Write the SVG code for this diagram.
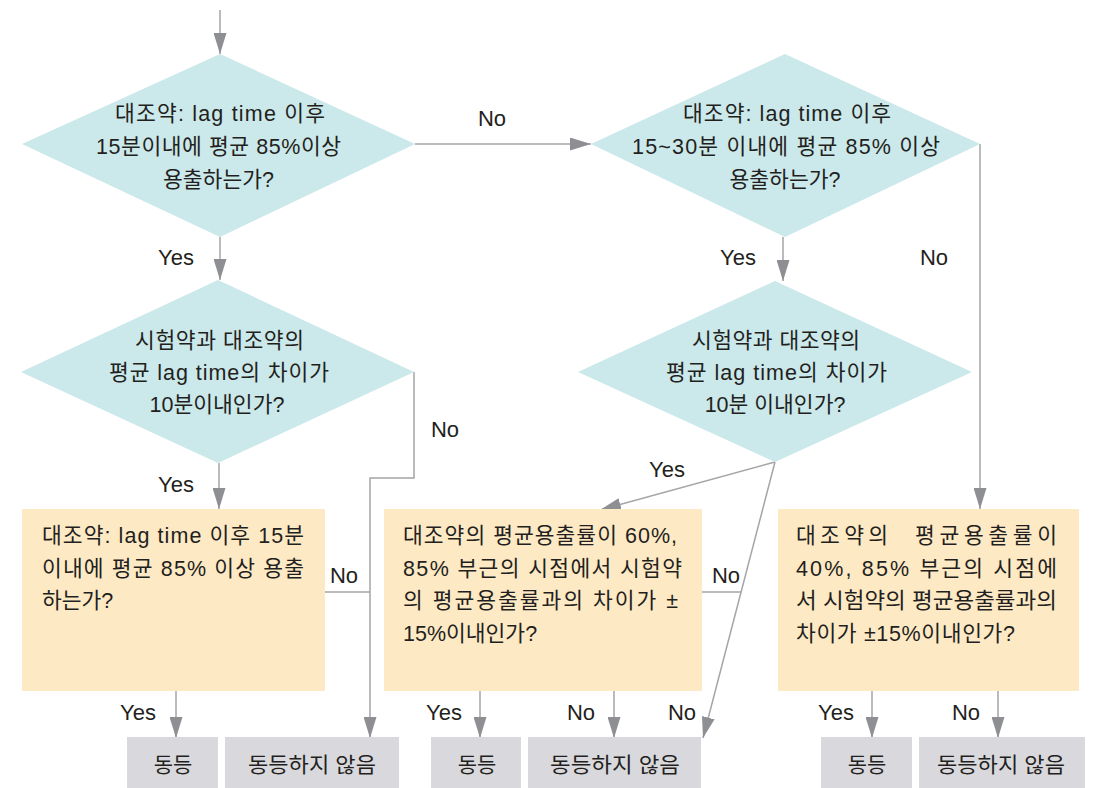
<svg xmlns="http://www.w3.org/2000/svg" width="1098" height="788" viewBox="0 0 1098 788">
<style>
text{font-family:'Liberation Sans','Noto Sans CJK KR',sans-serif;fill:#231f20}
.t{font-size:21.5px}
.g{font-size:21px}
.m{text-anchor:middle}
.lbl{font-size:22px;text-anchor:middle}
.dia{fill:#cbe8ea}
.box{fill:#fee9c5}
.gray{fill:#d9d9dd}
.c{fill:none;stroke:#a5a5a9;stroke-width:1.5}
.a{marker-end:url(#arr)}
</style>
<defs>
<marker id="arr" markerUnits="userSpaceOnUse" markerWidth="21" markerHeight="13" refX="21" refY="6.5" orient="auto">
<path d="M0,0 L21,6.5 L0,13 z" fill="#8e8f93"/>
</marker>
</defs>
<rect width="1098" height="788" fill="#ffffff"/>

<g id="connectors">
<path class="c a" d="M220,10 V54"/>
<path class="c a" d="M415,144 H591"/>
<path class="c a" d="M220,237 V280"/>
<path class="c a" d="M783,237 V281"/>
<path class="c a" d="M980,144 V509"/>
<path class="c a" d="M219,463 V509"/>
<path class="c a" d="M414,372 V478 H370 V738"/>
<path class="c" d="M325,592 H370"/>
<path class="c a" d="M775,462 L600,510"/>
<path class="c a" d="M775,462 L703,738"/>
<path class="c" d="M702,592 H741"/>
<path class="c a" d="M176,691 V738"/>
<path class="c a" d="M480,691 V738"/>
<path class="c a" d="M614,691 V738"/>
<path class="c a" d="M872,691 V738"/>
<path class="c a" d="M998,691 V738"/>
<text class="lbl" x="492" y="126">No</text>
<text class="lbl" x="176" y="265">Yes</text>
<text class="lbl" x="738" y="265">Yes</text>
<text class="lbl" x="934" y="265">No</text>
<text class="lbl" x="176" y="492">Yes</text>
<text class="lbl" x="445" y="437">No</text>
<text class="lbl" x="667" y="477">Yes</text>
<text class="lbl" x="344" y="583">No</text>
<text class="lbl" x="726" y="583">No</text>
<text class="lbl" x="138" y="720">Yes</text>
<text class="lbl" x="444" y="720">Yes</text>
<text class="lbl" x="581" y="720">No</text>
<text class="lbl" x="682" y="720">No</text>
<text class="lbl" x="836" y="720">Yes</text>
<text class="lbl" x="966" y="720">No</text>
</g>

<g id="d1">
<polygon class="dia" points="220,54 415,144 220,237 22,144"/>
<text class="t m" x="220" y="121" textLength="210">대조약: lag time 이후</text>
<text class="t m" x="218.5" y="154" textLength="245">15분이내에 평균 85%이상</text>
<text class="t m" x="218.5" y="187">용출하는가?</text>
</g>

<g id="d2">
<polygon class="dia" points="785,54 980,144 785,237 591,144"/>
<text class="t m" x="787" y="121" textLength="208">대조약: lag time 이후</text>
<text class="t m" x="786" y="154" textLength="308">15~30분 이내에 평균 85% 이상</text>
<text class="t m" x="785" y="187">용출하는가?</text>
</g>

<g id="d3">
<polygon class="dia" points="218,280 414,372 218,463 21,372"/>
<text class="t m" x="219.5" y="348" textLength="169">시험약과 대조약의</text>
<text class="t m" x="219" y="380" textLength="220">평균 lag time의 차이가</text>
<text class="t m" x="217" y="412">10분이내인가?</text>
</g>

<g id="d4">
<polygon class="dia" points="775,281 972,372 775,462 578,372"/>
<text class="t m" x="776" y="348" textLength="168">시험약과 대조약의</text>
<text class="t m" x="776.5" y="380" textLength="221">평균 lag time의 차이가</text>
<text class="t m" x="775" y="412">10분 이내인가?</text>
</g>

<g id="b1">
<rect class="box" x="22" y="509" width="303" height="182"/>
<text class="t" x="42" y="543" textLength="262">대조약: lag time 이후 15분</text>
<text class="t" x="42" y="576" textLength="262">이내에 평균 85% 이상 용출</text>
<text class="t" x="42" y="608">하는가?</text>
</g>

<g id="b2">
<rect class="box" x="384" y="509" width="318" height="182"/>
<text class="t" x="403" y="543" textLength="274">대조약의 평균용출률이 60%,</text>
<text class="t" x="403" y="576" textLength="279">85% 부근의 시점에서 시험약</text>
<text class="t" x="403" y="608" textLength="275">의 평균용출률과의 차이가 ±</text>
<text class="t" x="403" y="641">15%이내인가?</text>
</g>

<g id="b3">
<rect class="box" x="778" y="509" width="301" height="182"/>
<text class="t" y="543"><tspan x="796" textLength="92">대조약의</tspan> <tspan x="915" textLength="142">평균용출률이</tspan></text>
<text class="t" x="796" y="576" textLength="261">40%, 85% 부근의 시점에</text>
<text class="t" x="796" y="608" textLength="261" lengthAdjust="spacingAndGlyphs">서 시험약의 평균용출률과의</text>
<text class="t" x="796" y="641" textLength="219">차이가 ±15%이내인가?</text>
</g>

<g id="e1a"><rect class="gray" x="127" y="737" width="91" height="51"/><text class="g m" x="173" y="772">동등</text></g>
<g id="e1b"><rect class="gray" x="225" y="737" width="174" height="51"/><text class="g m" x="312" y="772" textLength="128" lengthAdjust="spacingAndGlyphs">동등하지 않음</text></g>
<g id="e2a"><rect class="gray" x="431" y="737" width="90" height="51"/><text class="g m" x="477" y="772">동등</text></g>
<g id="e2b"><rect class="gray" x="528" y="737" width="173" height="51"/><text class="g m" x="615" y="772" textLength="130" lengthAdjust="spacingAndGlyphs">동등하지 않음</text></g>
<g id="e3a"><rect class="gray" x="821" y="737" width="91" height="51"/><text class="g m" x="867" y="772">동등</text></g>
<g id="e3b"><rect class="gray" x="919" y="737" width="166" height="51"/><text class="g m" x="1001" y="772" textLength="128" lengthAdjust="spacingAndGlyphs">동등하지 않음</text></g>
</svg>
